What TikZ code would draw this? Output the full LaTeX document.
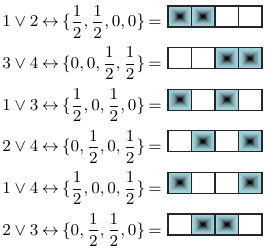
\documentclass[tikz,border=0pt]{standalone}
\usepackage{amsmath, amssymb}
\usepackage{xcolor}
\usepackage{tikz}
\usetikzlibrary{positioning, calc}

\definecolor{cellblue}{RGB}{163,211,220}
\thickmuskip=3.5mu plus 2mu

\begin{document}
\begin{tikzpicture}[
    x=0.5414pt, y=0.5414pt,
    eqn/.style={anchor=base west, inner sep=0pt, font=\fontsize{8.9}{11}\selectfont},
    frame/.style={draw=black!85, line width=0.65pt}
]
    \useasboundingbox (0,0) rectangle (266,251);

    % Equations
    \node[eqn] (eq1) at (2,224) {$1\vee 2\leftrightarrow\{\dfrac{1}{2},\dfrac{1}{2},0,0\}=$};
    \node[eqn] (eq2) at (2,182.4) {$3\vee 4\leftrightarrow\{0,0,\dfrac{1}{2},\dfrac{1}{2}\}=$};
    \node[eqn] (eq3) at (2,140.8) {$1\vee 3\leftrightarrow\{\dfrac{1}{2},0,\dfrac{1}{2},0\}=$};
    \node[eqn] (eq4) at (2,99.2) {$2\vee 4\leftrightarrow\{0,\dfrac{1}{2},0,\dfrac{1}{2}\}=$};
    \node[eqn] (eq5) at (2,57.6) {$1\vee 4\leftrightarrow\{\dfrac{1}{2},0,0,\dfrac{1}{2}\}=$};
    \node[eqn] (eq6) at (2,16) {$2\vee 3\leftrightarrow\{0,\dfrac{1}{2},\dfrac{1}{2},0\}=$};

    % Cell rows: shaded cells
    \foreach \row/\a/\b in {1/1/2, 2/3/4, 3/1/3, 4/2/4, 5/1/4, 6/2/3} {
        \pgfmathsetmacro\yb{224-41.6*(\row-1)}
        \foreach \c in {\a,\b} {
            \pgfmathsetmacro\xa{168+23.5*(\c-1)}
            \foreach \k in {0,...,9} {
                \pgfmathsetmacro\p{100-95*(\k/9)^2}
                \fill[cellblue!\p!black] ({\xa+1.1*\k},{\yb+\k}) rectangle ({\xa+23.5-1.1*\k},{\yb+21-\k});
            }
        }
        % Frames
        \foreach \c in {1,...,4} {
            \draw[frame] ({168+23.5*(\c-1)},\yb) rectangle ++(23.5,21);
        }
    }
\end{tikzpicture}
\end{document}
